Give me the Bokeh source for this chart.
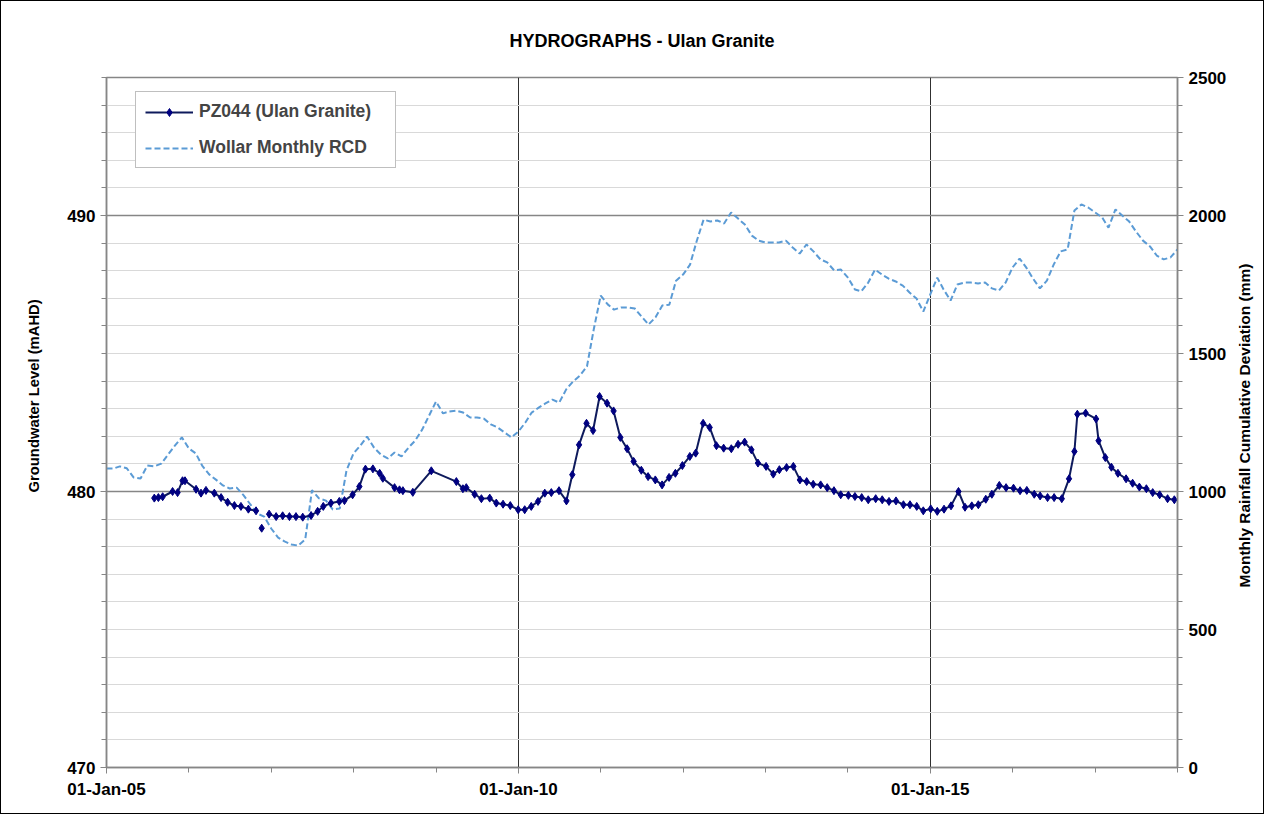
import math
import pandas as pd
from bokeh.plotting import figure
from bokeh.models import (Range1d, LinearAxis, FixedTicker, DatetimeTickFormatter,
                          Legend, LegendItem, ColumnDataSource, Title, Label)
from bokeh.embed import file_html
from bokeh.resources import INLINE

# ---------------- data ----------------
rcd_start = "2005-01-01"
rcd_values = [
    1083, 1083, 1091, 1084, 1051, 1047, 1094, 1091, 1101, 1134,
    1167, 1196, 1156, 1138, 1094, 1062, 1043, 1022, 1011, 1014,
    986, 953, 920, 909, 866, 833, 819, 808, 804, 826,
    1005, 975, 967, 935, 938, 1076, 1138, 1167, 1199, 1159,
    1134, 1120, 1141, 1127, 1159, 1185, 1225, 1275, 1326, 1283,
    1290, 1293, 1286, 1268, 1268, 1264, 1243, 1232, 1214, 1196,
    1217, 1250, 1286, 1304, 1319, 1333, 1322, 1370, 1399, 1420,
    1453, 1587, 1710, 1678, 1659, 1667, 1667, 1663, 1634, 1605,
    1631, 1674, 1677, 1764, 1786, 1822, 1906, 1985, 1978, 1982,
    1971, 2011, 1989, 1967, 1927, 1909, 1902, 1902, 1902, 1909,
    1884, 1862, 1895, 1870, 1841, 1830, 1801, 1804, 1775, 1732,
    1725, 1757, 1804, 1786, 1771, 1761, 1746, 1721, 1699, 1652,
    1714, 1775, 1732, 1692, 1750, 1757, 1757, 1754, 1757, 1736,
    1728, 1757, 1812, 1844, 1812, 1771, 1736, 1764, 1822, 1870,
    1877, 2018, 2040, 2029, 2011, 1993, 1956, 2022, 2000, 1978,
    1942, 1909, 1888, 1855, 1841, 1848, 1877,
]

NaN = float("nan")
pz_dates = [
    "2005-08-01", "2005-08-19", "2005-09-07", "2005-10-21", "2005-11-12", "2005-12-04",
    "2005-12-15", "2006-02-02", "2006-02-24", "2006-03-18", "2006-04-24", "2006-05-24",
    "2006-06-22", "2006-07-22", "2006-08-20", "2006-09-22", "2006-10-26",
    "2006-11-08", "2006-11-20", "2006-12-08",
    "2006-12-23", "2007-01-23", "2007-02-21", "2007-03-23", "2007-04-21", "2007-05-21",
    "2007-06-27", "2007-07-26", "2007-08-20", "2007-09-23", "2007-10-30", "2007-11-22",
    "2007-12-28", "2008-01-27", "2008-02-23", "2008-03-27", "2008-04-26", "2008-05-10",
    "2008-07-01", "2008-07-23", "2008-08-07", "2008-09-20", "2008-12-11", "2009-04-01",
    "2009-04-30", "2009-05-15", "2009-06-21", "2009-07-21", "2009-08-27", "2009-09-25",
    "2009-10-25", "2009-11-26", "2009-12-31", "2010-01-29", "2010-02-27", "2010-03-29",
    "2010-04-28", "2010-05-27", "2010-06-30", "2010-08-02", "2010-08-28", "2010-09-27",
    "2010-10-30", "2010-11-28", "2010-12-27", "2011-01-29", "2011-02-27", "2011-03-29",
    "2011-04-28", "2011-05-27", "2011-06-30", "2011-07-30", "2011-08-31", "2011-09-30",
    "2011-10-31", "2011-11-28", "2011-12-29", "2012-01-31", "2012-02-26", "2012-03-30",
    "2012-04-28", "2012-05-28", "2012-06-29", "2012-08-02", "2012-09-01", "2012-09-30",
    "2012-10-30", "2012-11-28", "2013-01-03", "2013-02-04", "2013-03-03", "2013-04-04",
    "2013-05-04", "2013-06-02", "2013-07-02", "2013-07-31", "2013-09-02", "2013-10-01",
    "2013-10-31", "2013-11-30", "2014-01-03", "2014-02-01", "2014-03-03", "2014-04-01",
    "2014-05-04", "2014-06-02", "2014-07-02", "2014-08-02", "2014-09-04", "2014-10-03",
    "2014-11-02", "2014-12-01", "2015-01-03", "2015-02-01", "2015-03-03", "2015-04-03",
    "2015-05-06", "2015-06-04", "2015-07-04", "2015-08-02", "2015-09-04", "2015-10-01",
    "2015-11-03", "2015-12-03", "2016-01-05", "2016-02-03", "2016-03-04", "2016-04-06",
    "2016-05-02", "2016-06-04", "2016-07-03", "2016-08-06", "2016-09-07", "2016-10-01",
    "2016-10-14", "2016-11-20", "2017-01-05", "2017-01-16", "2017-02-15", "2017-03-14",
    "2017-04-12", "2017-05-18", "2017-06-16", "2017-07-16", "2017-08-16", "2017-09-13",
    "2017-10-14", "2017-11-18", "2017-12-18",
]
pz_levels = [
    479.76, 479.78, 479.81, 480.00, 479.96, 480.39,
    480.39, 480.08, 479.94, 480.04, 479.94, 479.78,
    479.61, 479.49, 479.46, 479.36, 479.30,
    NaN, 478.67, NaN,
    479.18, 479.09, 479.12, 479.09, 479.09, 479.07,
    479.13, 479.28, 479.46, 479.58, 479.64, 479.67,
    479.88, 480.18, 480.81, 480.82, 480.66, 480.48,
    480.14, 480.06, 480.03, 479.97, 480.75, 480.36,
    480.10, 480.14, 479.90, 479.74, 479.76, 479.58,
    479.54, 479.49, 479.34, 479.34, 479.46, 479.64,
    479.94, 479.96, 480.03, 479.66, 480.61, 481.69,
    482.47, 482.21, 483.44, 483.20, 482.92, 481.96,
    481.55, 481.09, 480.77, 480.54, 480.42, 480.24,
    480.51, 480.66, 480.94, 481.27, 481.39, 482.47,
    482.32, 481.66, 481.57, 481.55, 481.71, 481.79,
    481.51, 481.03, 480.91, 480.63, 480.79, 480.87,
    480.91, 480.42, 480.36, 480.26, 480.24, 480.14,
    480.03, 479.88, 479.86, 479.82, 479.78, 479.70,
    479.74, 479.70, 479.64, 479.66, 479.52, 479.52,
    479.46, 479.30, 479.37, 479.28, 479.36, 479.48,
    480.00, 479.43, 479.48, 479.52, 479.72, 479.90,
    480.22, 480.14, 480.12, 480.03, 480.04, 479.90,
    479.84, 479.78, 479.78, 479.74, 480.46, 481.45,
    482.80, 482.84, 482.63, 481.84, 481.23, 480.88,
    480.66, 480.46, 480.30, 480.16, 480.10, 479.96,
    479.88, 479.74, 479.70,
]

x_start, x_end = "2005-01-01", "2018-01-01"
x_tick_dates = ["2005-01-01", "2010-01-01", "2015-01-01"]
x_minor_dates = ["%d-01-01" % y for y in range(2005, 2019)]
left_ticks = [470, 480, 490]
right_ticks = [0, 500, 1000, 1500, 2000, 2500]

# ---------------- figure ----------------
FONT = "Liberation Sans"
GRAY = "#868686"


def ms(d):
    return pd.Timestamp(d).value / 1e6


rcd_src = ColumnDataSource(dict(
    date=pd.date_range(rcd_start, periods=len(rcd_values), freq="MS"),
    rcd=rcd_values))
pz_src = ColumnDataSource(dict(date=pd.to_datetime(pz_dates), level=pz_levels))

p = figure(width=1264, height=814, output_backend="svg", toolbar_location=None,
           x_axis_type="datetime",
           x_range=Range1d(pd.Timestamp(x_start), pd.Timestamp(x_end)),
           y_range=Range1d(470, 495),
           min_border_left=105, min_border_right=88, min_border_top=76, min_border_bottom=48,
           background_fill_color="white", border_fill_color="white")
p.extra_y_ranges = {"rcd": Range1d(0, 2500)}

p.title.text = "HYDROGRAPHS - Ulan Granite"
p.title.align = "center"
p.title.text_font = FONT
p.title.text_font_size = "18px"
p.title.text_font_style = "bold"
p.title.text_color = "black"
p.title.standoff = 54

p.outline_line_color = GRAY
p.outline_line_width = 1.5
p.styles = {"border": "1.5px solid #000000"}

# x axis
xticker = FixedTicker(ticks=[ms(d) for d in x_tick_dates],
                      minor_ticks=[ms(d) for d in x_minor_dates])
xa = p.xaxis[0]
xa.ticker = xticker
fmt = "%d-%b-%y"
xa.formatter = DatetimeTickFormatter(years=fmt, months=fmt, days=fmt, hours=fmt,
                                     minutes=fmt, seconds=fmt, milliseconds=fmt,
                                     microseconds=fmt, hourmin=fmt, minsec=fmt)

# left axis
ya = p.yaxis[0]
ya.ticker = FixedTicker(ticks=left_ticks, minor_ticks=list(range(470, 496)))

# right axis
ra = LinearAxis(y_range_name="rcd",
                ticker=FixedTicker(ticks=right_ticks, minor_ticks=list(range(0, 2501, 100))))
p.add_layout(ra, "right")

for ax in (xa, ya, ra):
    ax.axis_line_color = GRAY
    ax.axis_line_width = 1.5
    ax.major_tick_line_color = GRAY
    ax.minor_tick_line_color = GRAY
    ax.major_tick_in = 0
    ax.major_tick_out = 6
    ax.minor_tick_in = 0
    ax.minor_tick_out = 5
    ax.major_label_text_font = FONT
    ax.major_label_text_font_style = "bold"
    ax.major_label_text_font_size = "17px"
    ax.major_label_text_color = "black"
xa.major_label_standoff = 6

# left axis title: a side title, started from the bottom like the reference
left_title = Title(text="Groundwater Level (mAHD)", align="left", offset=275,
                   text_font=FONT, text_font_style="bold", text_font_size="14.8px",
                   text_color="black", standoff=45)
p.add_layout(left_title, "left")

# right axis title: rotated label reading upwards, just right of the tick labels
right_title_x = ms(x_end) + 0.81 * 365.25 * 86400000
right_title = Label(x=right_title_x, y=342, x_units="data", y_units="screen",
                    text="Monthly Rainfall Cumulative Deviation (mm)", angle=math.pi / 2,
                    text_align="center", text_baseline="middle",
                    text_font=FONT, text_font_style="bold", text_font_size="15.5px",
                    text_color="black")
p.add_layout(right_title, "right")

# grids
p.ygrid.grid_line_color = GRAY
p.ygrid.grid_line_width = 1.3
p.ygrid.minor_grid_line_color = "#D9D9D9"
p.ygrid.minor_grid_line_width = 1
p.xgrid.grid_line_color = "#303030"
p.xgrid.grid_line_width = 1

# series
rcd_line = p.line("date", "rcd", source=rcd_src, y_range_name="rcd",
                  line_color="#5B9BD5", line_width=2, line_dash="6 3")
pz_line = p.line("date", "level", source=pz_src, line_color="#0E1A5C", line_width=2)
pz_pts = p.scatter("date", "level", source=pz_src, marker="diamond", size=8,
                   fill_color="#000080", line_color="#000080")

legend = Legend(items=[LegendItem(label="PZ044 (Ulan Granite)", renderers=[pz_line, pz_pts]),
                       LegendItem(label="Wollar Monthly RCD", renderers=[rcd_line])],
                location=(29, 599))
legend.border_line_color = "#808080"
legend.border_line_width = 1
legend.background_fill_color = "white"
legend.background_fill_alpha = 1
legend.label_text_font = FONT
legend.label_text_font_style = "bold"
legend.label_text_font_size = "17.5px"
legend.glyph_width = 48
legend.glyph_height = 20
legend.label_height = 20
legend.label_width = 187
legend.label_standoff = 6
legend.spacing = 15
legend.padding = 9
legend.margin = 0
p.add_layout(legend)

open("out.html", "w").write(file_html(p, INLINE))
